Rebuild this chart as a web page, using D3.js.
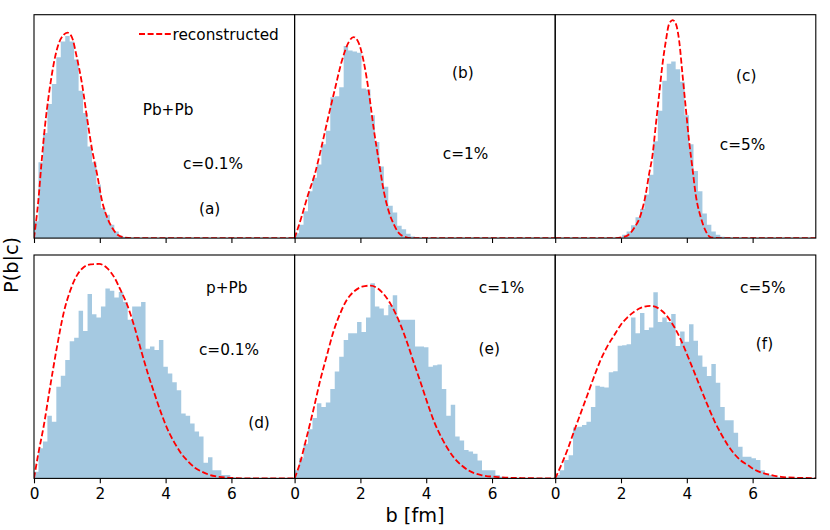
<!DOCTYPE html>
<html>
<head>
<meta charset="utf-8">
<script src="https://cdn.jsdelivr.net/npm/d3@7"></script>
<style>
  html, body { margin: 0; padding: 0; background: #fff; }
  svg { display: block; font-family: "DejaVu Sans", sans-serif; }
</style>
</head>
<body>
<svg id="chart" width="830" height="530"></svg>
<script>
// ---------------- data ----------------
const X_MAX = 7.92;            // b [fm] axis limit
const BIN_WIDTH = 8 / 59;      // histogram bin width in fm (bins start at b = 0)
const xTicks = [0, 2, 4, 6];

// Histogram heights (relative units, 100 = panel height), one entry per bin
const histA = [7.5, 34, 47, 60, 69, 81, 88, 90.5, 88, 80, 66, 56, 41, 34, 24, 13.5, 10.5, 6, 3, 1, 0.5, 0.2];
const histB = [2.2, 6, 12, 21, 27, 33, 42, 48, 63, 63.5, 67.5, 86, 84, 83.5, 83, 67, 66.5, 55, 43, 32, 23, 14.5, 11.5, 5.5, 4, 2, 0.7, 0.3];
const histC = [0, 0, 0, 0, 0, 0, 0, 0, 0, 0, 0, 0, 0, 0, 0.1, 1.5, 3, 5.7, 9.3, 13, 19.5, 28.4, 43.4, 57, 70.4, 78, 79, 75.6, 70, 55, 42, 30, 21, 11, 6, 3, 1.5, 0.6, 0.2];
const histD = [3, 13.5, 16.5, 28, 25.4, 41, 46, 53, 61.4, 63, 75, 66, 82.5, 73.5, 72, 77, 85, 84, 81, 83.4, 79, 71, 77, 77, 79, 58, 59, 57.5, 62, 50, 47, 43, 39.5, 29, 28, 24.6, 21, 18.7, 7, 9.5, 3.7, 3.7, 1.5, 1.5, 0.5, 0.3, 0.2, 0.1];
const histE = [3.7, 9, 15.5, 22, 27, 33.6, 32, 34, 40, 47.8, 54.5, 62, 65, 65, 70, 65.5, 72, 87.3, 77, 76, 73, 77.6, 82, 71, 71, 71, 71, 59, 59, 58.7, 50, 50.7, 51, 40, 28, 33, 18.7, 17, 12.7, 12, 11, 8, 3.7, 3.7, 3.7, 1.5, 0.7, 0.3, 0.2];
const histF = [1.5, 3.7, 8.2, 10.4, 22.8, 23.1, 23.9, 25.4, 32, 41.5, 41, 40.7, 47.5, 48, 59.4, 59.6, 60, 72, 65, 74, 66.4, 67.6, 83.3, 70, 72, 70, 73.6, 59.3, 65.8, 61.2, 69, 61.6, 55, 50, 45.8, 51.2, 42.8, 32, 26, 26, 20.4, 14.2, 9.7, 9.7, 9, 8.2, 3.7, 2.2, 1.5, 0.7, 0.5, 0.3];

// Reconstructed distributions: [b, relative height]
const curveA = [[0,0],[0.13,16.5],[0.23,34],[0.34,51],[0.44,63],[0.54,73],[0.64,81],[0.75,87],[0.9,91],[1.02,92],[1.15,90],[1.3,81],[1.46,69],[1.61,54],[1.76,40],[1.92,28.4],[2.07,16.5],[2.23,9],[2.38,4.5],[2.54,1.5],[2.74,0.3],[3.0,0],[7.92,0]];
const curveB = [[0,0],[0.2,9],[0.41,19.5],[0.61,28.4],[0.82,41],[1.02,54],[1.23,67],[1.43,79],[1.64,87.6],[1.79,90],[1.94,87.6],[2.1,79],[2.25,66],[2.4,49.4],[2.56,34.4],[2.71,21],[2.86,12],[3.02,6],[3.17,2.2],[3.37,0.5],[3.58,0],[7.92,0]];
const curveC = [[0,0],[1.8,0],[2.14,0.75],[2.4,4.5],[2.6,10.5],[2.75,19.5],[2.85,28.4],[2.96,37.4],[3.06,51],[3.16,64.4],[3.26,77.8],[3.36,88],[3.46,95.8],[3.57,97.6],[3.67,95.8],[3.77,88],[3.87,73],[3.97,58],[4.07,43.4],[4.17,31.4],[4.27,19.5],[4.43,9],[4.58,3],[4.73,0.3],[5.0,0],[7.92,0]];
const curveD = [[0,0],[0.13,11],[0.29,23],[0.49,41],[0.7,59],[0.9,74],[1.1,84],[1.31,91],[1.51,94.5],[1.72,95.8],[1.98,96],[2.23,94],[2.44,90],[2.64,84],[2.85,77],[3.05,68],[3.25,57.5],[3.46,47],[3.66,38],[3.87,29],[4.07,21.6],[4.28,15.7],[4.48,11],[4.69,7.5],[4.89,4.8],[5.1,3],[5.5,1],[6.1,0.15],[6.6,0],[7.92,0]];
const curveE = [[0,0],[0.16,6.7],[0.37,18.7],[0.57,30.6],[0.78,44],[0.98,55],[1.18,65.7],[1.39,74],[1.59,80],[1.8,83.6],[2.05,85.8],[2.31,86.3],[2.61,84],[2.92,78],[3.22,68.7],[3.43,60.4],[3.63,51.5],[3.84,42.5],[4.04,33.6],[4.24,25.4],[4.45,18.7],[4.65,13.4],[4.86,9],[5.06,6],[5.27,3.7],[5.67,1.5],[6.29,0.5],[6.9,0.15],[7.92,0]];
const curveF = [[0,0],[0.16,5.2],[0.37,12.7],[0.57,21],[0.77,29],[0.97,37],[1.18,45.5],[1.38,53],[1.58,59],[1.79,64],[1.99,68.7],[2.19,72],[2.4,74.6],[2.6,76.3],[2.9,77.2],[3.21,75.4],[3.41,72.4],[3.61,68],[3.82,62],[4.02,55],[4.22,47.8],[4.43,40],[4.63,32.8],[4.83,26],[5.04,20],[5.24,15],[5.44,11],[5.64,8],[5.85,6],[6.05,4],[6.25,2.7],[6.56,1.5],[6.86,0.7],[7.27,0.3],[7.92,0.15]];

const systems = ["Pb+Pb", "p+Pb"];
const centralities = ["c=0.1%", "c=1%", "c=5%"];
const panelTags = ["(a)", "(b)", "(c)", "(d)", "(e)", "(f)"];
const legendLabel = "reconstructed";
const xLabel = "b [fm]";
const yLabel = "P(b|c)";

// ---------------- layout ----------------
const W = 830, H = 530;
const marginLeft = 34, marginTop = 14.7;
const pw = 260.6, ph = 223.4, rowGap = 16.9;
const FONT = 15.3, LABEL_FONT = 19.3;
const BLUE = "#1f77b4";

const panels = [
  {hist: histA, curve: curveA, row: 0, col: 0},
  {hist: histB, curve: curveB, row: 0, col: 1},
  {hist: histC, curve: curveC, row: 0, col: 2},
  {hist: histD, curve: curveD, row: 1, col: 0},
  {hist: histE, curve: curveE, row: 1, col: 1},
  {hist: histF, curve: curveF, row: 1, col: 2}
];

// text annotations: panel index, text, offset from the panel's top-left (center x, baseline y)
const notes = [
  {p: 0, t: systems[0],      dx: 134,   dy: 100.3},
  {p: 0, t: centralities[0], dx: 179,   dy: 154.8},
  {p: 0, t: panelTags[0],    dx: 175.7, dy: 199.3},
  {p: 1, t: panelTags[1],    dx: 168.3, dy: 63.3},
  {p: 1, t: centralities[1], dx: 171,   dy: 144.3},
  {p: 2, t: panelTags[2],    dx: 191,   dy: 66.3},
  {p: 2, t: centralities[2], dx: 187.3, dy: 135.3},
  {p: 3, t: systems[1],      dx: 192.7, dy: 38.3},
  {p: 3, t: centralities[0], dx: 195,   dy: 100},
  {p: 3, t: panelTags[3],    dx: 225,   dy: 173},
  {p: 4, t: centralities[1], dx: 207,   dy: 38.3},
  {p: 4, t: panelTags[4],    dx: 194.6, dy: 99},
  {p: 5, t: centralities[2], dx: 207.6, dy: 38.3},
  {p: 5, t: panelTags[5],    dx: 209.3, dy: 93.5}
];

const svg = d3.select("#chart");
const x = d3.scaleLinear().domain([0, X_MAX]).range([0, pw]);
const y = d3.scaleLinear().domain([0, 100]).range([ph, 0]);

const area = d3.area()
  .x(d => x(d.b)).y0(y(0)).y1(d => y(d.v))
  .curve(d3.curveStepAfter);
const line = d3.line()
  .x(d => x(d[0])).y(d => y(d[1]))
  .curve(d3.curveMonotoneX);

panels.forEach((p, i) => {
  const gx = marginLeft + p.col * pw;
  const gy = marginTop + p.row * (ph + rowGap);
  const g = svg.append("g").attr("transform", `translate(${gx},${gy})`);

  const clipId = "clip" + i;
  g.append("clipPath").attr("id", clipId)
    .append("rect").attr("width", pw).attr("height", ph);

  const pts = p.hist.map((v, k) => ({b: k * BIN_WIDTH, v: v}));
  pts.push({b: p.hist.length * BIN_WIDTH, v: p.hist[p.hist.length - 1]});

  const plot = g.append("g").attr("clip-path", `url(#${clipId})`);
  plot.append("path").datum(pts)
    .attr("d", area)
    .attr("fill", BLUE).attr("fill-opacity", 0.4);

  plot.append("path").datum(p.curve)
    .attr("d", line)
    .attr("fill", "none")
    .attr("stroke", "#ff0000")
    .attr("stroke-width", 1.8)
    .attr("stroke-dasharray", "6,2.6");

  // axis ticks
  const axis = d3.axisBottom(x).tickValues(xTicks).tickSize(4.9).tickPadding(4.9)
    .tickFormat(p.row === 1 ? d3.format("d") : () => "");
  const ax = g.append("g").attr("transform", `translate(0,${ph})`).call(axis);
  ax.select(".domain").remove();
  ax.selectAll(".tick line").attr("stroke", "#000").attr("stroke-width", 1.1);
  ax.selectAll(".tick text")
    .attr("font-family", "DejaVu Sans, sans-serif")
    .attr("font-size", FONT).attr("fill", "#000");

  // frame
  g.append("rect").attr("width", pw).attr("height", ph)
    .attr("fill", "none").attr("stroke", "#000").attr("stroke-width", 1.1);

  // annotations
  notes.filter(n => n.p === i).forEach(n => {
    g.append("text").attr("x", n.dx).attr("y", n.dy)
      .attr("text-anchor", "middle").attr("font-size", FONT)
      .attr("fill", "#000").text(n.t);
  });

  // legend in panel (a)
  if (i === 0) {
    g.append("line")
      .attr("x1", 105).attr("x2", 137).attr("y1", 19.3).attr("y2", 19.3)
      .attr("stroke", "#ff0000").attr("stroke-width", 1.8)
      .attr("stroke-dasharray", "6,2.6");
    g.append("text").attr("x", 138.5).attr("y", 25.8)
      .attr("font-size", FONT).attr("fill", "#000").text(legendLabel);
  }
});

// axis labels
svg.append("text")
  .attr("x", W / 2).attr("y", 522)
  .attr("text-anchor", "middle").attr("font-size", LABEL_FONT)
  .attr("fill", "#000").text(xLabel);
svg.append("text")
  .attr("transform", `translate(17.5,${H / 2}) rotate(-90)`)
  .attr("text-anchor", "middle").attr("font-size", LABEL_FONT)
  .attr("fill", "#000").text(yLabel);
</script>
</body>
</html>
